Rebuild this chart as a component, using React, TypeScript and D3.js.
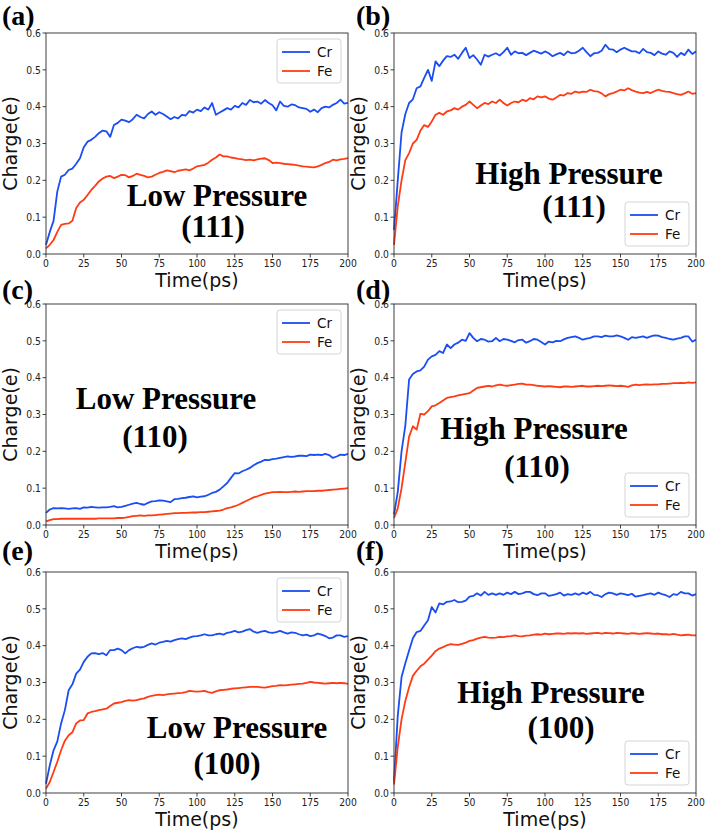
import React from "react";
import * as d3 from "d3";

// time step between samples (ps)
const STEP = 2.5;

const aCr = [0.025,0.06,0.09,0.17,0.21,0.215,0.228,0.232,0.245,0.26,0.29,0.305,0.31,0.318,0.328,0.335,0.333,0.318,0.35,0.356,0.365,0.362,0.358,0.366,0.378,0.372,0.368,0.38,0.387,0.378,0.385,0.38,0.373,0.366,0.372,0.368,0.378,0.376,0.388,0.384,0.392,0.388,0.398,0.392,0.41,0.378,0.384,0.39,0.396,0.392,0.402,0.398,0.41,0.405,0.418,0.412,0.414,0.408,0.418,0.41,0.404,0.39,0.414,0.402,0.4,0.406,0.404,0.398,0.396,0.394,0.386,0.392,0.385,0.396,0.4,0.398,0.405,0.41,0.419,0.408,0.41];
const aFe = [0.015,0.025,0.038,0.06,0.079,0.082,0.083,0.09,0.125,0.14,0.147,0.16,0.174,0.185,0.197,0.205,0.21,0.212,0.206,0.21,0.215,0.214,0.208,0.212,0.218,0.215,0.212,0.208,0.21,0.215,0.22,0.223,0.227,0.225,0.222,0.226,0.228,0.23,0.227,0.232,0.238,0.24,0.242,0.248,0.256,0.262,0.27,0.265,0.265,0.262,0.26,0.258,0.257,0.255,0.256,0.254,0.257,0.259,0.26,0.255,0.247,0.248,0.247,0.245,0.244,0.243,0.242,0.24,0.238,0.237,0.236,0.235,0.238,0.242,0.247,0.25,0.256,0.254,0.257,0.258,0.26];
const bCr = [0.065,0.2,0.33,0.38,0.41,0.42,0.45,0.455,0.478,0.5,0.47,0.523,0.51,0.525,0.537,0.535,0.541,0.53,0.546,0.56,0.532,0.54,0.528,0.514,0.541,0.536,0.541,0.545,0.539,0.548,0.56,0.541,0.55,0.545,0.546,0.54,0.546,0.552,0.548,0.544,0.55,0.545,0.537,0.542,0.546,0.54,0.55,0.545,0.546,0.552,0.56,0.548,0.537,0.545,0.546,0.552,0.568,0.556,0.555,0.548,0.555,0.56,0.555,0.55,0.55,0.545,0.557,0.548,0.546,0.54,0.55,0.544,0.541,0.55,0.546,0.535,0.546,0.54,0.555,0.543,0.55];
const bFe = [0.025,0.13,0.2,0.255,0.274,0.3,0.31,0.335,0.35,0.345,0.36,0.378,0.383,0.378,0.387,0.39,0.396,0.392,0.4,0.405,0.414,0.405,0.396,0.403,0.41,0.407,0.414,0.41,0.419,0.41,0.403,0.41,0.414,0.412,0.419,0.415,0.423,0.42,0.428,0.425,0.428,0.422,0.419,0.425,0.432,0.43,0.437,0.435,0.441,0.438,0.441,0.44,0.446,0.442,0.441,0.436,0.428,0.434,0.437,0.441,0.446,0.444,0.45,0.445,0.441,0.438,0.437,0.44,0.437,0.442,0.446,0.443,0.441,0.44,0.437,0.434,0.432,0.436,0.441,0.435,0.437];
const cCr = [0.033,0.042,0.046,0.045,0.046,0.045,0.044,0.045,0.046,0.044,0.048,0.047,0.049,0.048,0.047,0.048,0.048,0.049,0.051,0.048,0.049,0.052,0.055,0.058,0.06,0.057,0.055,0.06,0.064,0.065,0.067,0.066,0.064,0.062,0.07,0.071,0.073,0.074,0.076,0.078,0.075,0.077,0.078,0.082,0.087,0.09,0.096,0.105,0.114,0.128,0.141,0.14,0.146,0.15,0.155,0.162,0.168,0.172,0.177,0.176,0.179,0.18,0.182,0.184,0.186,0.185,0.186,0.188,0.188,0.187,0.191,0.19,0.191,0.19,0.193,0.19,0.182,0.186,0.191,0.19,0.193];
const cFe = [0.01,0.013,0.016,0.016,0.017,0.017,0.017,0.017,0.017,0.017,0.017,0.017,0.017,0.017,0.018,0.018,0.018,0.018,0.018,0.019,0.019,0.02,0.022,0.024,0.025,0.026,0.025,0.026,0.026,0.027,0.028,0.029,0.03,0.031,0.032,0.032,0.033,0.033,0.0335,0.034,0.034,0.035,0.035,0.036,0.037,0.038,0.039,0.042,0.046,0.048,0.051,0.055,0.06,0.065,0.07,0.075,0.078,0.082,0.085,0.087,0.089,0.089,0.09,0.089,0.089,0.09,0.091,0.09,0.091,0.092,0.092,0.092,0.093,0.093,0.094,0.095,0.096,0.097,0.098,0.099,0.1];
const dCr = [0.028,0.09,0.2,0.27,0.395,0.41,0.417,0.42,0.43,0.449,0.458,0.462,0.472,0.467,0.49,0.48,0.49,0.495,0.503,0.5,0.521,0.508,0.499,0.505,0.503,0.498,0.499,0.508,0.499,0.505,0.503,0.5,0.496,0.502,0.503,0.495,0.499,0.505,0.503,0.497,0.49,0.498,0.496,0.5,0.499,0.504,0.508,0.51,0.512,0.508,0.503,0.506,0.508,0.512,0.512,0.51,0.514,0.512,0.512,0.515,0.512,0.508,0.503,0.51,0.508,0.51,0.512,0.508,0.512,0.515,0.514,0.51,0.508,0.505,0.503,0.506,0.508,0.512,0.512,0.498,0.503];
const dFe = [0.019,0.045,0.1,0.17,0.24,0.268,0.259,0.302,0.3,0.309,0.322,0.325,0.331,0.338,0.345,0.347,0.349,0.352,0.354,0.356,0.358,0.365,0.372,0.374,0.376,0.378,0.376,0.379,0.381,0.379,0.378,0.38,0.381,0.383,0.384,0.381,0.381,0.38,0.378,0.377,0.376,0.377,0.376,0.375,0.374,0.376,0.376,0.375,0.376,0.377,0.378,0.376,0.376,0.377,0.378,0.377,0.378,0.379,0.378,0.377,0.378,0.377,0.375,0.379,0.381,0.38,0.381,0.382,0.381,0.382,0.382,0.383,0.383,0.384,0.385,0.385,0.386,0.385,0.387,0.386,0.387];
const eCr = [0.025,0.075,0.116,0.14,0.189,0.225,0.279,0.295,0.324,0.335,0.356,0.37,0.379,0.38,0.377,0.38,0.374,0.388,0.388,0.392,0.388,0.379,0.388,0.393,0.397,0.395,0.397,0.402,0.406,0.403,0.408,0.41,0.413,0.411,0.415,0.418,0.42,0.418,0.422,0.425,0.426,0.428,0.431,0.428,0.428,0.431,0.433,0.43,0.435,0.437,0.44,0.436,0.438,0.442,0.445,0.438,0.435,0.438,0.44,0.436,0.435,0.437,0.44,0.436,0.433,0.436,0.435,0.431,0.428,0.43,0.426,0.428,0.433,0.43,0.426,0.42,0.422,0.428,0.428,0.424,0.426];
const eFe = [0.012,0.03,0.057,0.085,0.116,0.142,0.157,0.165,0.189,0.197,0.198,0.216,0.22,0.222,0.225,0.227,0.229,0.236,0.243,0.245,0.247,0.25,0.252,0.251,0.252,0.255,0.257,0.261,0.264,0.266,0.267,0.266,0.268,0.269,0.27,0.271,0.272,0.274,0.277,0.276,0.275,0.276,0.277,0.274,0.272,0.276,0.279,0.28,0.281,0.283,0.284,0.285,0.286,0.287,0.288,0.288,0.288,0.287,0.286,0.288,0.29,0.291,0.293,0.292,0.293,0.294,0.295,0.296,0.297,0.299,0.302,0.3,0.299,0.298,0.297,0.298,0.299,0.298,0.299,0.298,0.296];
const fCr = [0.032,0.21,0.315,0.352,0.387,0.42,0.437,0.44,0.455,0.469,0.505,0.49,0.515,0.512,0.519,0.52,0.524,0.518,0.519,0.522,0.533,0.535,0.542,0.536,0.546,0.538,0.542,0.538,0.542,0.538,0.544,0.54,0.546,0.54,0.542,0.546,0.546,0.54,0.537,0.542,0.542,0.535,0.537,0.54,0.544,0.536,0.54,0.538,0.542,0.538,0.544,0.54,0.546,0.538,0.537,0.532,0.54,0.544,0.542,0.538,0.542,0.54,0.537,0.541,0.533,0.535,0.537,0.54,0.542,0.538,0.544,0.54,0.537,0.532,0.54,0.538,0.546,0.542,0.542,0.536,0.54];
const fFe = [0.023,0.125,0.2,0.25,0.287,0.318,0.332,0.344,0.351,0.362,0.373,0.385,0.392,0.396,0.401,0.404,0.403,0.402,0.405,0.408,0.413,0.415,0.419,0.422,0.424,0.422,0.421,0.422,0.424,0.423,0.425,0.426,0.428,0.426,0.425,0.427,0.428,0.43,0.431,0.43,0.433,0.431,0.432,0.433,0.433,0.432,0.434,0.433,0.434,0.433,0.434,0.432,0.433,0.434,0.435,0.433,0.435,0.434,0.433,0.435,0.434,0.433,0.432,0.434,0.433,0.432,0.433,0.434,0.433,0.432,0.433,0.431,0.431,0.43,0.432,0.43,0.428,0.429,0.43,0.428,0.428];

const xTicks = [0, 25, 50, 75, 100, 125, 150, 175, 200];
const yTicks = [0.0, 0.1, 0.2, 0.3, 0.4, 0.5, 0.6];
const seriesNames = ["Cr", "Fe"];
const panelLetters = ["(a)", "(b)", "(c)", "(d)", "(e)", "(f)"];
const pressureLabels = ["Low Pressure", "High Pressure", "Low Pressure", "High Pressure", "Low Pressure", "High Pressure"];
const facetLabels = ["(111)", "(111)", "(110)", "(110)", "(100)", "(100)"];
const crData = [aCr, bCr, cCr, dCr, eCr, fCr];
const feData = [aFe, bFe, cFe, dFe, eFe, fFe];

const COLORS = ["#1a4df2", "#ff3b14"];
const W = 302;
const H = 221;
const lefts = [46, 394];
const tops = [33, 304, 572];
// legend placement: "tr" top-right, "br" bottom-right
const legendPos = ["tr", "br", "tr", "br", "tr", "br"];
// annotation: [centerX1, baseline1, centerX2, baseline2] relative to plot origin
const annot = [
  [171, 173, 167, 204],
  [175, 151, 180, 184],
  [120, 105, 109, 143],
  [140, 135, 143, 173],
  [191, 166, 181, 202],
  [157, 131, 167, 166],
];
const letterBase = [25, 299, 560];

const FONT = "DejaVu Sans, sans-serif";
const SERIF = "Liberation Serif, Times New Roman, serif";
const TICK_SX = 0.88;

function Panel({ idx }: { idx: number }) {
  const col = idx % 2;
  const row = Math.floor(idx / 2);
  const left = lefts[col];
  const top = tops[row];
  const x = d3.scaleLinear().domain([0, 200]).range([0, W]);
  const y = d3.scaleLinear().domain([0, 0.6]).range([H, 0]);
  const line = d3
    .line<number>()
    .x((_, i) => x(i * STEP))
    .y((v) => y(v));
  const series = [crData[idx], feData[idx]];
  const lp = legendPos[idx];
  const lw = 64;
  const lh = 44;
  const lx = W - 7 - lw;
  const ly = lp === "tr" ? 6 : H - 8 - lh;
  const a = annot[idx];
  return (
    <g transform={`translate(${left},${top})`}>
      <g>
        {series.map((s, k) => (
          <path key={k} d={line(s) || ""} fill="none" stroke={COLORS[k]} strokeWidth={1.8} strokeLinejoin="round" />
        ))}
      </g>
      <rect x={0} y={0} width={W} height={H} fill="none" stroke="#2b2b2b" strokeWidth={0.9} />
      {xTicks.map((t) => (
        <g key={t} transform={`translate(${x(t)},${H})`}>
          <line y1={0} y2={3.5} stroke="#2b2b2b" strokeWidth={0.9} />
          <text transform={`translate(0,13) scale(${TICK_SX},1)`} textAnchor="middle" fontSize={10.5} fontFamily={FONT} fill="#222">
            {t}
          </text>
        </g>
      ))}
      {yTicks.map((t) => (
        <g key={t} transform={`translate(0,${y(t)})`}>
          <line x1={0} x2={-3.5} stroke="#2b2b2b" strokeWidth={0.9} />
          <text transform={`translate(-5,0) scale(${TICK_SX},1)`} dy="0.36em" textAnchor="end" fontSize={10.5} fontFamily={FONT} fill="#222">
            {t.toFixed(1)}
          </text>
        </g>
      ))}
      <text x={W / 2} y={H + 33} textAnchor="middle" fontSize={19} fontFamily={FONT} fill="#111">
        Time(ps)
      </text>
      <text
        transform={`translate(${-29},${H / 2}) rotate(-90)`}
        textAnchor="middle"
        fontSize={19}
        fontFamily={FONT}
        fill="#111"
      >
        Charge(e)
      </text>
      <g transform={`translate(${lx},${ly})`}>
        <rect x={0} y={0} width={lw} height={lh} rx={3} fill="#fff" fillOpacity={0.8} stroke="#d0d0d0" strokeWidth={0.9} />
        {seriesNames.map((n, k) => (
          <g key={n} transform={`translate(0,${13 + k * 19})`}>
            <line x1={5} x2={33} stroke={COLORS[k]} strokeWidth={1.8} />
            <text x={40} dy="0.36em" fontSize={13.5} fontFamily={FONT} fill="#111">
              {n}
            </text>
          </g>
        ))}
      </g>
      <text x={a[0]} y={a[1]} textAnchor="middle" fontSize={31} fontWeight="bold" fontFamily={SERIF} fill="#000">
        {pressureLabels[idx]}
      </text>
      <text x={a[2]} y={a[3]} textAnchor="middle" fontSize={31} fontWeight="bold" fontFamily={SERIF} fill="#000">
        {facetLabels[idx]}
      </text>
    </g>
  );
}

export default function App() {
  return (
    <svg width={708} height={832} style={{ position: "absolute", left: 0, top: 0, background: "#fff" }}>
      <rect width={708} height={832} fill="#fff" />
      {[0, 1, 2, 3, 4, 5].map((i) => (
        <Panel key={i} idx={i} />
      ))}
      {panelLetters.map((l, i) => (
        <text
          key={l}
          x={i % 2 === 0 ? 2 : 356}
          y={letterBase[Math.floor(i / 2)]}
          fontSize={28}
          fontWeight="bold"
          fontFamily={SERIF}
          fill="#000"
        >
          {l}
        </text>
      ))}
    </svg>
  );
}
